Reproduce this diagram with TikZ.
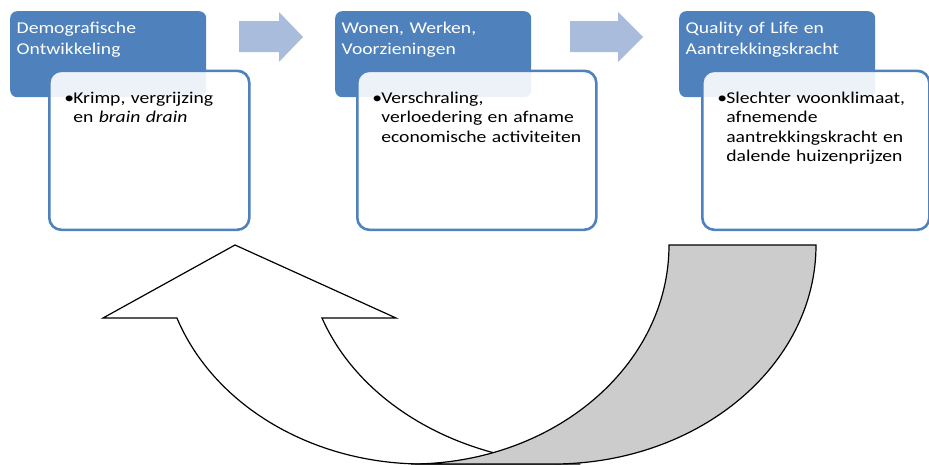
\documentclass[tikz,border=0pt]{standalone}
\usepackage{fontspec}
\setmainfont{Carlito}[FakeStretch=1.19, WordSpace=0.85]
\usetikzlibrary{positioning}

\definecolor{accent}{RGB}{79,129,189}
\definecolor{flowblue}{RGB}{170,188,219}
\definecolor{bandgray}{RGB}{204,204,204}

% block arrow between two headers: tail x, start of head x, tip x
\newcommand{\flowarrow}[3]{\fill[flowblue] (#1,21) -- (#2,21) -- (#2,12) -- (#3,37) -- (#2,62) -- (#2,52) -- (#1,52) -- cycle;}
% bullet with the following lines hanging under the text
\newcommand{\bul}[1]{\leftskip=24pt\hspace*{-9pt}\makebox[9pt][l]{\textbullet}#1\par}

\tikzset{
  hdbox/.style={fill=accent, rounded corners=7pt, anchor=north west, inner xsep=6.5pt, inner ysep=0pt,
    text width=183pt, text height=22.3pt, text depth=63.7pt, align=left, text=white,
    font=\fontsize{16.5}{21}\selectfont},
  cardbox/.style={draw=accent, line width=2.6pt, fill=white, fill opacity=0.9, text opacity=1,
    rounded corners=12pt, anchor=north west, inner sep=0pt, text height=32.2pt, text depth=126.8pt,
    align=left, font=\fontsize{16.5}{19.5}\selectfont},
  bandline/.style={draw=black, line width=1.2pt, line join=miter},
}

\begin{document}
\begin{tikzpicture}[x=1pt,y=-1pt]
\useasboundingbox (0,0) rectangle (929,464);

% headers
\node[hdbox] (h1) at (10,11) {Demografische\\Ontwikkeling};
\node[hdbox] (h2) at (335,11) {Wonen, Werken,\\Voorzieningen};
\node[hdbox] (h3) at (679,11) {Quality of Life en\\Aantrekkingskracht};

% cards under the headers
\node[cardbox, text width=200pt] (c1) at (48,69.5) {\bul{Krimp, vergrijzing\\en \textit{brain drain}}};
\node[cardbox, text width=239pt] (c2) at (356,69.5) {\bul{Verschraling,\\verloedering en afname\\economische activiteiten}};
\node[cardbox, text width=227pt] (c3) at (701,69.5) {\bul{Slechter woonklimaat,\\afnemende\\aantrekkingskracht en\\dalende huizenprijzen}};

\flowarrow{239}{279}{303}
\flowarrow{570}{618}{643}

% curved arrow back to the start
\draw[bandline, fill=white] (235,245) -- (396,318) -- (322,318)
  arc[start angle=160.53, end angle=90, x radius=274, y radius=219]
  -- (423,464) arc[start angle=90, end angle=160.53, x radius=261, y radius=219]
  -- (103,318) -- cycle;
\draw[bandline, fill=bandgray] (669,245) -- (816,245)
  arc[start angle=0, end angle=90, x radius=263, y radius=219]
  -- (411,464) arc[start angle=90, end angle=0, x radius=258, y radius=219] -- cycle;
\end{tikzpicture}
\end{document}
